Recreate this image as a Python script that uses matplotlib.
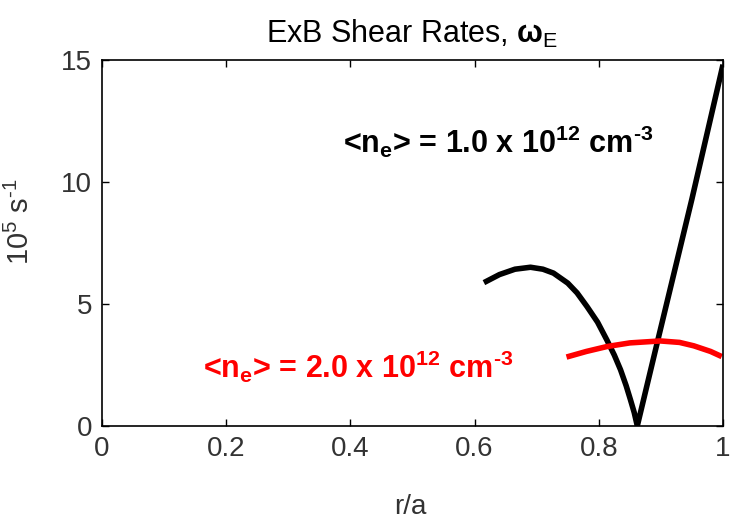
import numpy as np
import matplotlib
matplotlib.use('Agg')
import matplotlib.pyplot as plt

plt.rcParams['font.family'] = ['Liberation Sans', 'DejaVu Sans']
plt.rcParams['mathtext.fontset'] = 'custom'
plt.rcParams['mathtext.rm'] = 'Liberation Sans'
plt.rcParams['mathtext.bf'] = 'Liberation Sans:bold'
plt.rcParams['mathtext.it'] = 'Liberation Sans:italic'
plt.rcParams['mathtext.default'] = 'bf'

# shear rate profiles, 10^5 s^-1 vs r/a
r_low = [0.615, 0.64, 0.665, 0.69, 0.71, 0.727, 0.75, 0.765, 0.781, 0.798, 0.813,
         0.825, 0.835, 0.844, 0.851, 0.857, 0.862, 0.894, 0.95, 1.0]
w_low = [5.87, 6.2, 6.42, 6.5, 6.42, 6.26, 5.85, 5.45, 4.89, 4.25, 3.52,
         2.9, 2.30, 1.65, 1.07, 0.55, 0.0, 3.4, 9.3, 14.8]

r_high = [0.748, 0.78, 0.813, 0.85, 0.899, 0.93, 0.953, 0.98, 0.998]
w_high = [2.82, 3.05, 3.25, 3.40, 3.48, 3.42, 3.28, 3.05, 2.84]

xticks = [0, 0.2, 0.4, 0.6, 0.8, 1]
xticklabels = ['0', '0.2', '0.4', '0.6', '0.8', '1']
yticks = [0, 5, 10, 15]

fig = plt.figure(figsize=(7.34, 5.2), dpi=100)
ax = fig.add_axes([0.139, 0.181, 0.846, 0.704])

ax.plot(r_low, w_low, color='black', lw=4, solid_capstyle='butt', solid_joinstyle='round')
ax.plot(r_high, w_high, color='#ff0000', lw=4, solid_capstyle='butt', solid_joinstyle='round')

ax.set_xlim(0, 1)
ax.set_ylim(0, 15)
ax.set_xticks(xticks)
ax.set_xticklabels(xticklabels)
ax.set_yticks(yticks)
ax.tick_params(direction='in', length=5, width=1, top=True, right=True,
               labelsize=20, labelcolor='#333333')
ax.tick_params(axis='x', pad=7)
ax.tick_params(axis='y', pad=7)
for sp in ax.spines.values():
    sp.set_linewidth(1.2)

hy = '\u2010'
ax.set_title(r'ExB Shear Rates, $\omega_{\mathrm{E}}$', fontsize=22, pad=12)
ax.set_xlabel('r/a', fontsize=20, color='#333333')
ax.set_ylabel('10$^{\\mathrm{5}}$ s$^{\\mathrm{' + hy + '1}}$', fontsize=21, color='#333333')
ax.xaxis.set_label_coords(0.496, -0.185)
ax.yaxis.set_label_coords(-0.108, 0.557)

ax.text(0.388, 11.2, '<n$_e$> = 1.0 x 10$^{12}$ cm$^{' + hy + '3}$', color='black',
        fontsize=22, fontweight='bold', ha='left', va='baseline')
ax.text(0.163, 1.97, '<n$_e$> = 2.0 x 10$^{12}$ cm$^{' + hy + '3}$', color='#ff0000',
        fontsize=22, fontweight='bold', ha='left', va='baseline')

fig.savefig('out.png', dpi=100)
